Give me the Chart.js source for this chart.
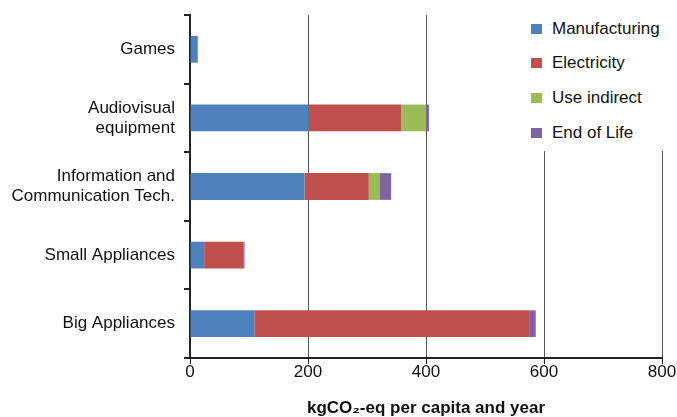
<!DOCTYPE html>
<html>
<head>
<meta charset="utf-8">
<script src="https://cdn.jsdelivr.net/npm/chart.js@4"></script>
<style>
  body { margin: 0; background: #fff; }
  #wrap { position: relative; width: 677px; height: 417px; }
  #legend {
    position: absolute; left: 516px; top: 11px; width: 161px; height: 140px;
    background: #fff; font-family: 'Liberation Sans', Arial, Helvetica, sans-serif;
    font-size: 17px; color: #111;
  }
  .item { position: absolute; left: 0; height: 20px; line-height: 20px; white-space: nowrap; }
  .box { position: absolute; left: 15px; top: 5px; width: 11px; height: 10px; }
  .txt { position: absolute; left: 36px; top: 0; }
</style>
</head>
<body>
<div id="wrap">
  <canvas id="myChart" width="677" height="417"></canvas>
  <div id="legend"></div>
</div>
<script>
// ===== データ =====
const categories = [
  'Games',
  ['Audiovisual', 'equipment'],
  ['Information and', 'Communication Tech.'],
  'Small Appliances',
  'Big Appliances'
];
const seriesNames = ['Manufacturing', 'Electricity', 'Use indirect', 'End of Life'];
const seriesColors = ['#4F81BD', '#C0504D', '#9BBB59', '#8064A2'];

const manufacturing = [12, 201, 194, 24, 109];
const electricity   = [0.5, 157, 109, 67, 467];
const useIndirect   = [0, 42, 19, 0, 0];
const endOfLife     = [1.2, 5, 19, 1.5, 10];

const xTicks = [0, 200, 400, 600, 800];
const xTitle = 'kgCO\u2082-eq per capita and year';

const FONT = "'Liberation Sans', Arial, Helvetica, sans-serif";

// ===== legend (HTML, 白背景でグリッド線を隠す) =====
const legendEl = document.getElementById('legend');
seriesNames.forEach((name, i) => {
  const item = document.createElement('div');
  item.className = 'item';
  item.style.top = (7.5 + i * 34.7) + 'px';
  item.innerHTML = `<span class="box" style="background:${seriesColors[i]}"></span><span class="txt">${name}</span>`;
  legendEl.appendChild(item);
});

// ===== chart =====
const values = [manufacturing, electricity, useIndirect, endOfLife];
const data = {
  labels: categories,
  datasets: seriesNames.map((name, i) => ({
    label: name,
    data: values[i],
    backgroundColor: seriesColors[i],
    borderWidth: 0,
    barPercentage: 0.39,
    categoryPercentage: 1,
  })),
};

const config = {
  type: 'bar',
  data,
  options: {
    indexAxis: 'y',
    responsive: false,
    animation: false,
    layout: { padding: { left: 0, right: 15, top: 15, bottom: 0 } },
    plugins: {
      legend: { display: false },
      tooltip: { enabled: false },
    },
    scales: {
      x: {
        stacked: true,
        min: 0,
        max: 800,
        afterBuildTicks: (s) => { s.ticks = xTicks.map(v => ({ value: v })); },
        grid: {
          color: '#555',
          lineWidth: 1,
          drawTicks: true,
          tickLength: 6,
          tickColor: '#222',
        },
        border: { display: true, color: '#222', width: 2 },
        ticks: {
          padding: 0,
          color: '#111',
          font: { family: FONT, size: 17, lineHeight: 1 },
          maxRotation: 0,
        },
        title: {
          display: true,
          text: xTitle,
          color: '#111',
          font: { family: FONT, size: 17, weight: 'bold', lineHeight: 1 },
          padding: { top: 19, bottom: 0 },
        },
      },
      y: {
        stacked: true,
        afterFit: (s) => {
          s.width = 190;
          s.paddingTop = 0;
          s.paddingBottom = 0;
        },
        grid: {
          offset: true,
          drawOnChartArea: false,
          drawTicks: true,
          tickLength: 6,
          tickColor: '#222',
          lineWidth: 2,
        },
        border: { display: true, color: '#222', width: 2 },
        ticks: {
          padding: 9,
          color: '#111',
          font: { family: FONT, size: 17, lineHeight: 1.18 },
        },
      },
    },
  },
};

new Chart(document.getElementById('myChart'), config);
</script>
</body>
</html>
